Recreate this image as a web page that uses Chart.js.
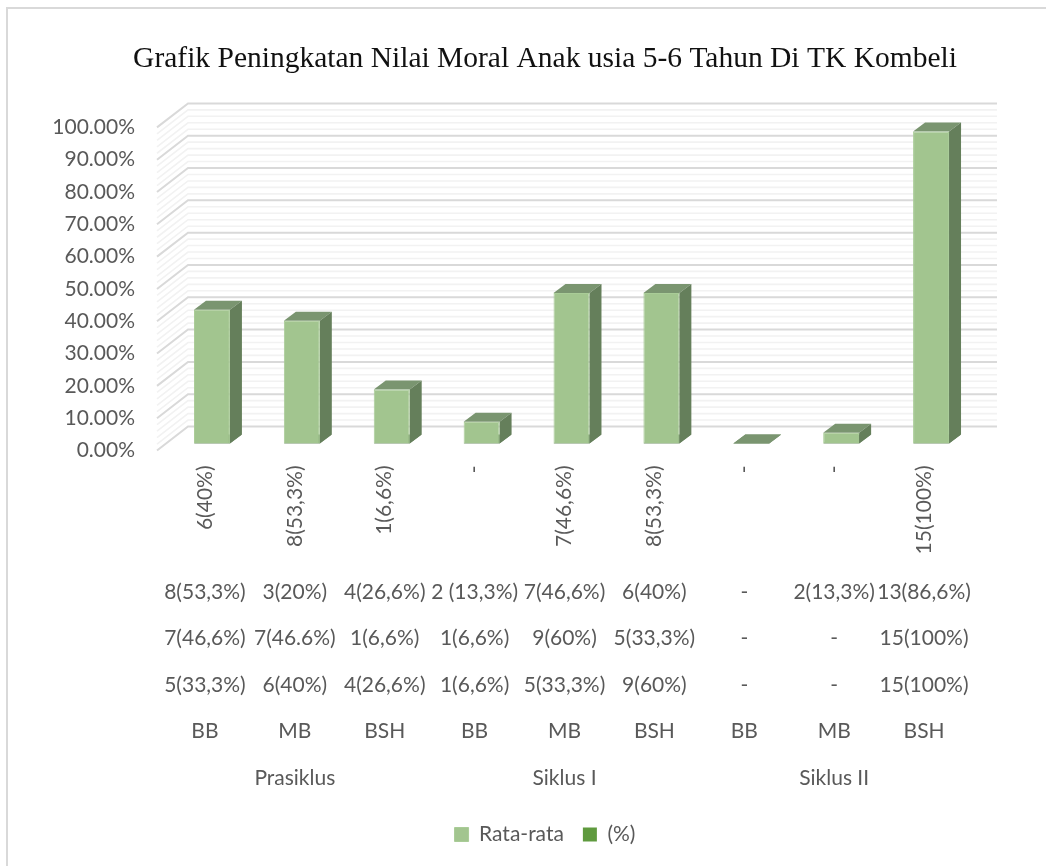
<!DOCTYPE html>
<html>
<head>
    <title>Grafik Peningkatan Nilai Moral</title>
    <script src="https://cdn.jsdelivr.net/npm/chart.js"></script>
    <style>
        body { margin: 0; background: #fff; }
        #frame { position: absolute; left: 6px; top: 7px; right: 0; bottom: 0; border-left: 2px solid #d9d9d9; border-top: 2px solid #d9d9d9; }
        canvas { position: absolute; left: 0; top: 0; }
    </style>
</head>
<body>
    <div id="frame"></div>
    <canvas id="chart" width="1046" height="866"></canvas>

    <script>
        // ===== DATA =====
        const rataRata = [41.4, 38, 16.7, 6.7, 46.6, 46.6, 0, 3.3, 96.6];
        const persen = [null, null, null, null, null, null, null, null, null];
        const row1 = ['6(40%)', '8(53,3%)', '1(6,6%)', '-', '7(46,6%)', '8(53,3%)', '-', '-', '15(100%)'];
        const row2 = ['8(53,3%)', '3(20%)', '4(26,6%)', '2 (13,3%)', '7(46,6%)', '6(40%)', '-', '2(13,3%)', '13(86,6%)'];
        const row3 = ['7(46,6%)', '7(46.6%)', '1(6,6%)', '1(6,6%)', '9(60%)', '5(33,3%)', '-', '-', '15(100%)'];
        const row4 = ['5(33,3%)', '6(40%)', '4(26,6%)', '1(6,6%)', '5(33,3%)', '9(60%)', '-', '-', '15(100%)'];
        const kategori = ['BB', 'MB', 'BSH', 'BB', 'MB', 'BSH', 'BB', 'MB', 'BSH'];
        const siklus = ['', 'Prasiklus', '', '', 'Siklus I', '', '', 'Siklus II', ''];

        const grey = '#595959';
        const tickFont = { family: 'Lato', size: 21 };

        // one bottom axis per row of labels
        function rowAxis(labels, weight, height, padding, rotation) {
            return {
                type: 'category',
                position: 'bottom',
                axis: 'x',
                labels: labels,
                offset: true,
                weight: weight,
                afterFit: s => { s.height = height; },
                grid: { display: false, drawTicks: false },
                border: { display: false },
                ticks: { color: grey, font: tickFont, autoSkip: false, padding: padding, minRotation: rotation, maxRotation: rotation }
            };
        }

        // ===== 3D LOOK: walls behind the bars, depth faces on each bar =====
        const wall3d = {
            id: 'wall3d',
            beforeDatasetsDraw(chart) {
                const { ctx, chartArea, scales } = chart;
                const x0 = chartArea.left - 3, x1 = x0 + 31, x2 = chartArea.right + 28;
                ctx.save();
                for (let v = 0; v <= 100; v += 2) {
                    const major = v % 10 === 0;
                    const y = scales.y.getPixelForValue(v);
                    ctx.strokeStyle = major ? '#d9d9d9' : '#f2f2f2';
                    ctx.lineWidth = major ? 2 : 1.6;
                    ctx.beginPath();
                    ctx.moveTo(x0, y);
                    ctx.lineTo(x1, y - 24);
                    ctx.lineTo(x2, y - 24);
                    ctx.stroke();
                }
                ctx.restore();
            },
            beforeDatasetDraw(chart, args) {
                const ctx = chart.ctx;
                ctx.save();
                ctx.translate(7, -7);
                chart.getDatasetMeta(args.index).data.forEach(bar => {
                    if (bar.skip) return;
                    const { x, y, base, width } = bar.getProps(['x', 'y', 'base', 'width'], true);
                    if (y == null || isNaN(y)) return;
                    const l = x - width / 2, r = x + width / 2;
                    ctx.fillStyle = '#7a9570';
                    ctx.beginPath();
                    ctx.moveTo(l, y); ctx.lineTo(l + 12, y - 9); ctx.lineTo(r + 12, y - 9); ctx.lineTo(r, y);
                    ctx.fill();
                    ctx.fillStyle = '#657f5b';
                    ctx.beginPath();
                    ctx.moveTo(r, y); ctx.lineTo(r + 12, y - 9); ctx.lineTo(r + 12, base - 9); ctx.lineTo(r, base);
                    ctx.fill();
                });
            },
            afterDatasetDraw(chart) {
                chart.ctx.restore();
            }
        };

        new Chart(document.getElementById('chart'), {
            type: 'bar',
            data: {
                labels: row1,
                datasets: [{
                    label: 'Rata-rata',
                    data: rataRata,
                    backgroundColor: '#a2c58f',
                    borderColor: '#a9cc97',
                    borderWidth: 1
                }, {
                    label: '(%)',
                    data: persen,
                    backgroundColor: '#5f9a3e'
                }]
            },
            plugins: [wall3d],
            options: {
                responsive: false,
                animation: false,
                grouped: false,
                barPercentage: 0.4,
                categoryPercentage: 1,
                layout: { padding: { left: 44, right: 0, top: 0, bottom: 11 } },
                plugins: {
                    tooltip: { enabled: false },
                    title: {
                        display: true,
                        text: 'Grafik Peningkatan Nilai Moral Anak usia 5-6 Tahun Di TK Kombeli',
                        color: '#111',
                        font: { family: 'Liberation Serif', size: 29.5, weight: 'normal' },
                        padding: { top: 42, bottom: 50 }
                    },
                    legend: {
                        position: 'bottom',
                        labels: {
                            color: grey,
                            font: tickFont,
                            boxWidth: 14,
                            boxHeight: 14,
                            padding: 19
                        }
                    }
                },
                scales: {
                    x: rowAxis(row1, 0, 119, 15, 90),
                    x2: rowAxis(row2, 1, 46.5, 10, 0),
                    x3: rowAxis(row3, 2, 46.5, 10, 0),
                    x4: rowAxis(row4, 3, 46.5, 10, 0),
                    x5: rowAxis(kategori, 4, 46.5, 10, 0),
                    x6: rowAxis(siklus, 5, 49.5, 10, 0),
                    y: {
                        min: 0,
                        max: 100,
                        afterFit: s => { s.width = 116; },
                        grid: { display: false, drawTicks: false },
                        border: { display: false },
                        ticks: {
                            stepSize: 10,
                            color: grey,
                            font: tickFont,
                            padding: 25,
                            callback: v => v.toFixed(2) + '%'
                        }
                    },
                    // keeps the room the back wall needs on the right
                    depth: {
                        type: 'linear',
                        position: 'right',
                        afterFit: s => { s.width = 77; },
                        grid: { display: false, drawTicks: false },
                        border: { display: false },
                        ticks: { display: false }
                    }
                }
            }
        });
    </script>
</body>
</html>
